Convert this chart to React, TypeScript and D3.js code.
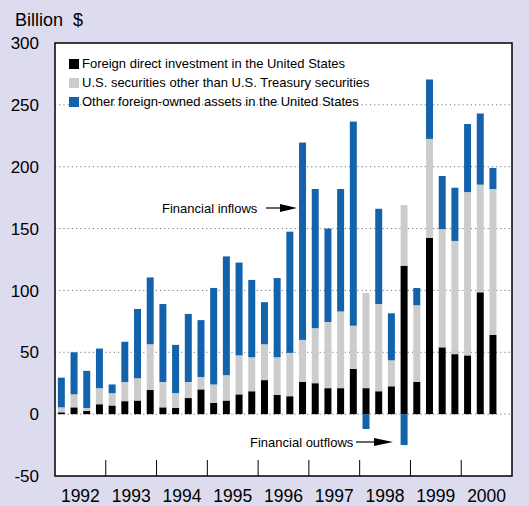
import React from 'react';
import * as d3 from 'd3';

// quarterly data, 1992Q1 .. 2000Q3 (billion $)
const years = ['1992', '1993', '1994', '1995', '1996', '1997', '1998', '1999', '2000'];
const quarters = years.flatMap((y) => ['Q1', 'Q2', 'Q3', 'Q4'].map((q) => y + q));

const fdi = [1.5, 5.5, 2.5, 8, 7, 10.5, 11, 19.5, 5.5, 5, 13, 20, 9, 11, 16, 18.5, 27.5, 15.5, 14.5, 26, 25, 21, 21, 36.5, 21, 18.5, 22.5, 120, 26, 142.5, 54, 48.5, 47.5, 98.5, 64];
const securities = [4, 10.5, 2.5, 13, 10, 15.5, 18, 37, 20.5, 12, 13, 10, 15, 20.5, 31.5, 27.5, 29, 30.5, 35, 34, 44.5, 53.5, 62, 35, 77, 70.5, 21, 49, 62, 80, 95.5, 91.5, 132, 87, 118];
const other = [24, 34, 30, 32, 7, 32.5, 56, 54, 63, 39, 55, 46, 78, 96, 75, 62.5, 34, 64, 98, 159.5, 112.5, 75.5, 99, 165, -12, 77, 38, -25, 14, 48, 43, 43, 55, 57.5, 17];

const seriesKeys = ['fdi', 'securities', 'other'];
const seriesLabels = [
  'Foreign direct investment in the United States',
  'U.S. securities other than U.S. Treasury securities',
  'Other foreign-owned assets in the United States',
];
const colors = ['#000000', '#cccccc', '#1263ac'];
const yTicks = [300, 250, 200, 150, 100, 50, 0, -50];

const W = 529;
const H = 506;
const left = 55;
const right = 512;
const top = 43;
const bottom = 476;
const font = '"Liberation Sans", Arial, Helvetica, sans-serif';

export default function App() {
  const rows = fdi.map((v, i) => ({
    q: quarters[i],
    fdi: v,
    securities: securities[i],
    other: other[i],
  }));

  const x = d3.scaleBand().domain(quarters).range([left, right]).paddingInner(0.45).paddingOuter(0.225);
  const y = d3.scaleLinear().domain([-50, 300]).range([bottom, top]);

  const stacked = d3.stack<any>().keys(seriesKeys).offset(d3.stackOffsetDiverging)(rows);

  const step = x.step();
  const yearStart = (yr: string) => x(yr + 'Q1')! - (step - x.bandwidth()) / 2;

  return (
    <svg width={W} height={H} style={{ position: 'absolute', left: 0, top: 0, display: 'block' }} fontFamily={font}>
      <rect x={0} y={0} width={W} height={H} fill="#dcdcee" />
      <text x={15} y={26} fontSize={18} fill="#000" style={{ whiteSpace: 'pre' }}>Billion  $</text>

      <rect x={left} y={top} width={right - left} height={bottom - top} fill="#fff" />

      {/* gridlines */}
      {yTicks.filter((t) => t < 300 && t > -50).map((t) => (
        <line key={t} x1={left} x2={right} y1={y(t)} y2={y(t)} stroke="#777" strokeWidth={1} strokeDasharray="1.2,3" />
      ))}

      {/* bars */}
      {stacked.map((s, si) => (
        <g key={s.key} fill={colors[si]}>
          {s.map((d, i) => (
            <rect
              key={i}
              x={x(d.data.q)}
              width={x.bandwidth()}
              y={y(Math.max(d[0], d[1]))}
              height={Math.abs(y(d[0]) - y(d[1]))}
            />
          ))}
        </g>
      ))}

      {/* year ticks */}
      {years.slice(1).map((yr) => (
        <line key={yr} x1={yearStart(yr)} x2={yearStart(yr)} y1={bottom - 16} y2={bottom} stroke="#000" strokeWidth={1} />
      ))}

      <rect x={left} y={top} width={right - left} height={bottom - top} fill="none" stroke="#000" strokeWidth={1.5} />

      {/* y labels */}
      {yTicks.map((t) => (
        <text key={t} x={39} y={y(t)} dy="0.36em" textAnchor="end" fontSize={17} fill="#000">{t}</text>
      ))}

      {/* x labels */}
      {years.map((yr) => (
        <text key={yr} x={yearStart(yr) + step * 2} y={501.5} textAnchor="middle" fontSize={17.5} fill="#000">{yr}</text>
      ))}

      {/* legend */}
      {seriesLabels.map((lab, i) => (
        <g key={lab} transform={`translate(69, ${59 + i * 19})`}>
          <rect x={0} y={0} width={10} height={10} fill={colors[i]} />
          <text x={13} y={9} fontSize={13} fill="#000">{lab}</text>
        </g>
      ))}

      {/* annotations */}
      <text x={162} y={213} fontSize={13} fill="#000">Financial inflows</text>
      <line x1={266} x2={282} y1={208} y2={208} stroke="#000" strokeWidth={1.2} />
      <path d="M280,204 L297,208 L280,212 Z" fill="#000" />

      <text x={250} y={447} fontSize={13} fill="#000">Financial outflows</text>
      <line x1={356} x2={376} y1={442} y2={442} stroke="#000" strokeWidth={1.2} />
      <path d="M374,438 L393,442 L374,446 Z" fill="#000" />
    </svg>
  );
}
